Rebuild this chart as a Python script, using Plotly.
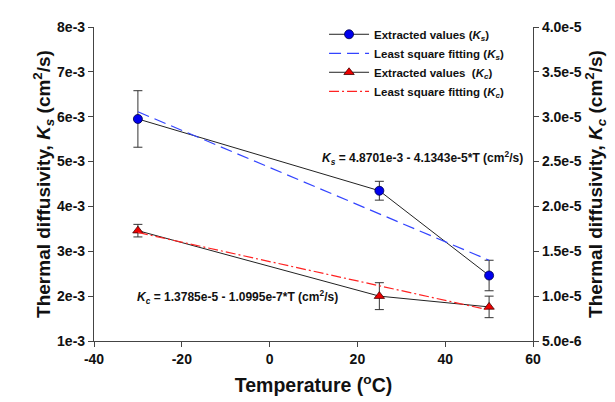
import plotly.graph_objects as go

# ---- data ----
temps = [-30, 25, 50]
ks_vals = [5.95e-3, 4.35e-3, 2.46e-3]
ks_err = [0.63e-3, 0.21e-3, 0.34e-3]
kc_vals = [1.73e-5, 1.00e-5, 8.8e-6]
kc_err = [0.7e-6, 1.5e-6, 1.2e-6]
fit_t = [-30, 50]
ks_fit = [6.11e-3, 2.80e-3]
kc_fit = [1.71e-5, 8.45e-6]

x_tickvals = [-40, -20, 0, 20, 40, 60]
x_ticktext = ["-40", "-20", "0", "20", "40", "60"]
ks_tickvals = [1e-3, 2e-3, 3e-3, 4e-3, 5e-3, 6e-3, 7e-3, 8e-3]
ks_ticktext = ["1e-3", "2e-3", "3e-3", "4e-3", "5e-3", "6e-3", "7e-3", "8e-3"]
kc_tickvals = [5e-6, 1e-5, 1.5e-5, 2e-5, 2.5e-5, 3e-5, 3.5e-5, 4e-5]
kc_ticktext = ["5.0e-6", "1.0e-5", "1.5e-5", "2.0e-5", "2.5e-5", "3.0e-5", "3.5e-5", "4.0e-5"]

FONT = "Liberation Sans, Arial, sans-serif"


def bold(labels):
    return ["<b>%s</b>" % s for s in labels]


fig = go.Figure()

fig.add_trace(go.Scatter(
    x=temps, y=ks_vals, mode="lines+markers",
    name="<b>Extracted values (<i>K<sub>s</sub></i>)</b>",
    line=dict(color="#222222", width=1),
    marker=dict(symbol="circle", size=9, color="#0000ee",
                line=dict(color="#000044", width=0.8)),
    error_y=dict(type="data", array=ks_err, visible=True,
                 color="#333333", thickness=1, width=4.5),
    yaxis="y"))

fig.add_trace(go.Scatter(
    x=fit_t, y=ks_fit, mode="lines",
    name="<b>Least square fitting (<i>K<sub>s</sub></i>)</b>",
    line=dict(color="#3344ff", width=1.2, dash="12px,6px"),
    yaxis="y"))

fig.add_trace(go.Scatter(
    x=temps, y=kc_vals, mode="lines+markers",
    name="<b>Extracted values\u00a0 (<i>K<sub>c</sub></i>)</b>",
    line=dict(color="#222222", width=1),
    marker=dict(symbol="triangle-up", size=9, color="#ee0000",
                line=dict(color="#440000", width=0.8)),
    error_y=dict(type="data", array=kc_err, visible=True,
                 color="#333333", thickness=1, width=4.5),
    yaxis="y2"))

fig.add_trace(go.Scatter(
    x=fit_t, y=kc_fit, mode="lines",
    name="<b>Least square fitting (<i>K<sub>c</sub></i>)</b>",
    line=dict(color="#ff2222", width=1.2, dash="10px,3px,2px,3px"),
    yaxis="y2"))

axis_common = dict(
    showline=True, linecolor="#444444", linewidth=1.2,
    ticks="outside", ticklen=5, tickcolor="#444444", tickwidth=1,
    showgrid=False, zeroline=False,
    tickfont=dict(family=FONT, size=14, color="#111111"),
)

fig.update_layout(
    width=615, height=402,
    margin=dict(l=86, r=90, t=17, b=69),
    paper_bgcolor="white", plot_bgcolor="white",
    font=dict(family=FONT, color="#111111"),
    showlegend=True,
    legend=dict(x=0.524, y=1.023, xanchor="left", yanchor="top",
                bgcolor="rgba(0,0,0,0)",
                font=dict(family=FONT, size=11.5, color="#111111"),
                tracegroupgap=0, itemwidth=40),
    xaxis=dict(
        range=[-40, 60], tickmode="array", tickvals=x_tickvals, ticktext=bold(x_ticktext),
        title=dict(text="<b>Temperature (<sup>o</sup>C)</b>",
                   font=dict(family=FONT, size=19.5), standoff=12),
        **axis_common),
    yaxis=dict(
        range=[1e-3, 8e-3], tickmode="array", tickvals=ks_tickvals, ticktext=bold(ks_ticktext),
        title=dict(text="<b>Thermal diffusivity, <i>K<sub>s</sub></i> (cm<sup>2</sup>/s)</b>",
                   font=dict(family=FONT, size=19), standoff=0),
        **axis_common),
    yaxis2=dict(
        range=[5e-6, 4e-5], tickmode="array", tickvals=kc_tickvals, ticktext=bold(kc_ticktext),
        overlaying="y", side="right", anchor="x",
        title=dict(text="<b>Thermal diffusivity, <i>K<sub>c</sub></i> (cm<sup>2</sup>/s)</b>",
                   font=dict(family=FONT, size=19), standoff=6),
        **axis_common),
)

# annotation anchors, converted from plot-area pixels to paper coords
L, R, T, B = 86, 525, 17, 333
fig.add_annotation(
    x=(517 - L) / (R - L), y=(B - 149) / (B - T), xref="paper", yref="paper",
    xanchor="right", yanchor="middle", showarrow=False,
    text="<b><i>K<sub>s</sub></i> = 4.8701e-3 - 4.1343e-5*T (cm<sup>2</sup>/s)</b>",
    font=dict(family=FONT, size=12, color="#111111"))
fig.add_annotation(
    x=(127 - L) / (R - L), y=(B - 289) / (B - T), xref="paper", yref="paper",
    xanchor="left", yanchor="middle", showarrow=False,
    text="<b><i>K<sub>c</sub></i> = 1.3785e-5 - 1.0995e-7*T (cm<sup>2</sup>/s)</b>",
    font=dict(family=FONT, size=12, color="#111111"))

fig.write_html("out.html")
